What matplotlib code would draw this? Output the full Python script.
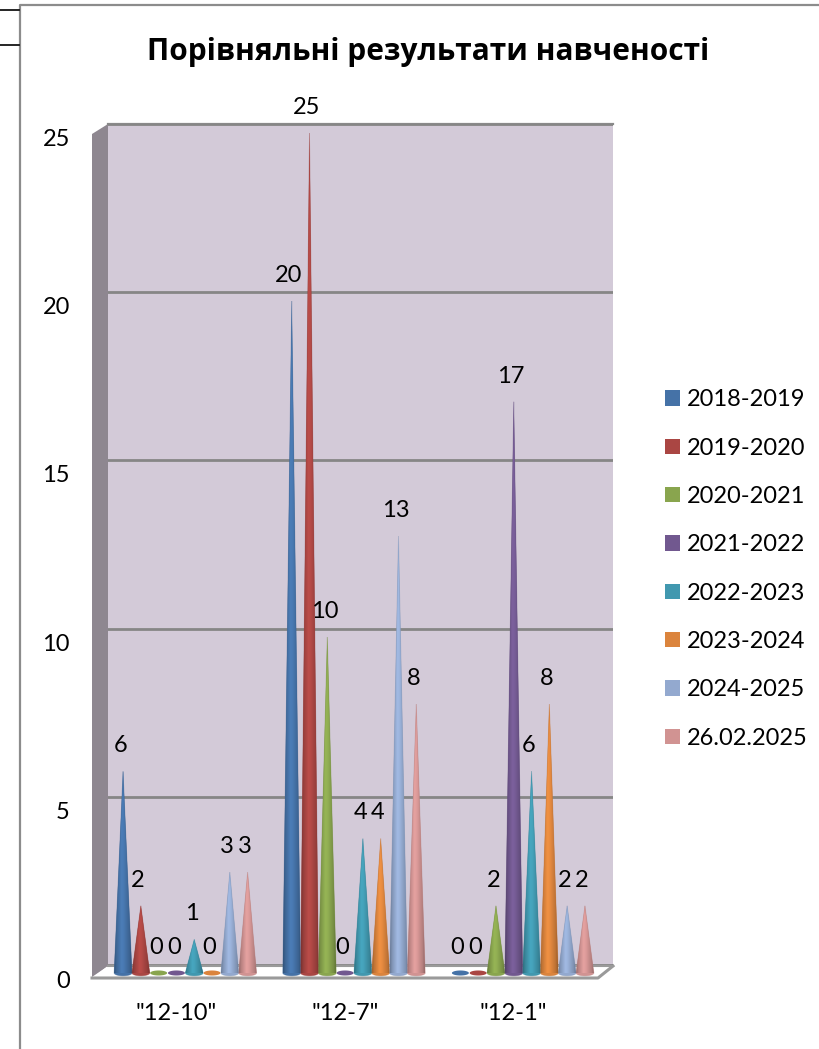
import numpy as np
import matplotlib
matplotlib.use("Agg")
import matplotlib.pyplot as plt
from matplotlib.patches import Polygon, PathPatch, Patch
from matplotlib.path import Path
from matplotlib.lines import Line2D

categories = ['"12-10"', '"12-7"', '"12-1"']
series_names = ['2018-2019', '2019-2020', '2020-2021', '2021-2022',
                '2022-2023', '2023-2024', '2024-2025', '26.02.2025']
v_2018 = [6, 20, 0]
v_2019 = [2, 25, 0]
v_2020 = [0, 10, 2]
v_2021 = [0, 0, 17]
v_2022 = [1, 4, 6]
v_2023 = [0, 4, 8]
v_2024 = [3, 13, 2]
v_2026 = [3, 8, 2]
all_values = [v_2018, v_2019, v_2020, v_2021, v_2022, v_2023, v_2024, v_2026]
colors = ['#4572A7', '#AA4643', '#89A54E', '#71588F',
          '#4198AF', '#DB843D', '#93A9CF', '#D19392']
title = 'Порівняльні результати навченості'

W, H = 819, 1049
FONT = ['Lato', 'Open Sans', 'DejaVu Sans']
plt.rcParams['font.family'] = FONT
fig = plt.figure(figsize=(W / 100, H / 100), dpi=100)


def axes_px(x0, x1, ytop, ybot, **kw):
    return fig.add_axes([x0 / W, 1 - ybot / H, (x1 - x0) / W, (ybot - ytop) / H], **kw)


# Pixel-space backdrop: chart frame, 3D walls, floor
bg = axes_px(0, W, 0, H)
bg.set_xlim(0, W)
bg.set_ylim(H, 0)
bg.axis('off')
bg.set_zorder(0)
bg.add_line(Line2D([19.5, 19.5, W], [H, 5, 5], color='#8c8c8c', lw=1.6))
bg.add_line(Line2D([0, 19], [10, 10], color='black', lw=1.2))
bg.add_line(Line2D([0, 19], [45, 45], color='black', lw=1.2))
bg.add_patch(Polygon([(108, 124), (613, 124), (613, 966), (108, 966)],
                     fc='#D3CAD8', ec='none'))
bg.add_line(Line2D([108, 613], [124, 124], color='#8a8a8a', lw=1.6))
bg.add_patch(Polygon([(92, 134), (108, 124), (108, 966), (92, 978)],
                     fc='#8E8790', ec='none'))
bg.add_patch(Polygon([(92, 977), (108, 966), (613, 966), (598, 977)],
                     fc='white', ec='none'))
bg.add_line(Line2D([92, 598, 613], [978, 978, 966], color='#9a9a9a', lw=2.2))
bg.add_line(Line2D([108, 613], [966, 966], color='#9a9a9a', lw=1.5))

# Back wall gridlines
wall = axes_px(108, 613, 124, 965)
wall.set_zorder(1)
wall.patch.set_alpha(0)
wall.set_ylim(0, 25)
wall.set_xlim(0, 1)
wall.set_yticks(range(0, 26, 5))
wall.set_xticks([])
wall.tick_params(length=0, labelleft=False)
wall.grid(axis='y', color='#868686', lw=2)
for s in wall.spines.values():
    s.set_visible(False)

# Front plane: tick labels
front = axes_px(92, 598, 137, 979)
front.set_zorder(2)
front.patch.set_alpha(0)
front.set_ylim(0, 25)
front.set_xlim(-0.5, 2.5)
front.set_yticks(range(0, 26, 5))
front.set_xticks(range(3))
front.set_xticklabels(categories)
front.tick_params(axis='y', length=0, pad=16, labelsize=17, labelcolor='black')
front.tick_params(axis='x', length=0, pad=17, labelsize=17, labelcolor='black')
for s in front.spines.values():
    s.set_visible(False)

# Cones
ax = axes_px(101, 607, 133, 973)
ax.set_zorder(3)
ax.patch.set_alpha(0)
ax.axis('off')
XL, YL = (-0.5, 2.5), (0, 25)
ax.set_xlim(*XL)
ax.set_ylim(*YL)
step = 0.1055
half = 0.053
eh = 0.085
profile_x = [0.0, 0.12, 0.42, 0.55, 0.88, 1.0]
profile_f = [0.72, 0.88, 1.10, 1.06, 0.86, 0.70]
xs_g = np.linspace(0, 1, 64)
prof = np.interp(xs_g, profile_x, profile_f)

for si, (vals, col) in enumerate(zip(all_values, colors)):
    rgb = np.array(matplotlib.colors.to_rgb(col))
    grad = np.clip(rgb[None, None, :] * prof[None, :, None], 0, 1)
    for gi, v in enumerate(vals):
        xc = gi + (si - 3.5) * step
        t = np.linspace(np.pi, 2 * np.pi, 24)
        if v == 0:
            th = np.linspace(0, 2 * np.pi, 48)
            ax.fill(xc + half * 0.95 * np.cos(th), 0.075 * np.sin(th),
                    color=col, lw=0, clip_on=False)
        else:
            px = np.r_[xc, xc + half * np.cos(t)[::-1], xc]
            py = np.r_[v, eh * np.sin(t)[::-1], v]
            patch = PathPatch(Path(np.c_[px, py]), fc=col, ec='none',
                              transform=ax.transData)
            ax.add_patch(patch)
            patch.set_clip_on(False)
            im = ax.imshow(grad, extent=(xc - half, xc + half, -eh, v),
                           aspect='auto', interpolation='bilinear', zorder=2)
            im.set_clip_path(patch)
            edge = PathPatch(Path(np.c_[px, py]), fc='none', lw=0.6, zorder=3,
                             ec=tuple(rgb * 0.85), alpha=0.4, clip_on=False)
            ax.add_patch(edge)
        ax.annotate(str(v), (xc, v), xytext=(-2, 11), textcoords='offset points',
                    ha='center', va='bottom', fontsize=17, color='black',
                    annotation_clip=False, zorder=5)
ax.set_xlim(*XL)
ax.set_ylim(*YL)

# Title
fig.text(428 / W, 1 - 52 / H, title, ha='center', va='center', fontsize=21.5,
         fontweight='bold', family=['Open Sans', 'DejaVu Sans'], color='black')

# Legend
handles = [Patch(fc=c, ec='none') for c in colors]
leg = fig.legend(handles, series_names, loc='center left',
                 bbox_to_anchor=(665 / W, 1 - 569 / H), frameon=False,
                 fontsize=17, handlelength=0.635, handleheight=0.635,
                 handletextpad=0.3, labelspacing=1.157, borderpad=0,
                 borderaxespad=0)

fig.savefig('out.png', dpi=100)
